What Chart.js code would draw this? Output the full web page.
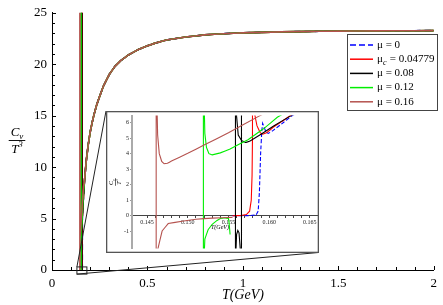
<!DOCTYPE html>
<html><head><meta charset="utf-8">
<script src="https://cdn.jsdelivr.net/npm/chart.js@4.4.0/dist/chart.umd.min.js"></script>
<style>
html,body{margin:0;padding:0;background:#fff;}
#wrap{position:relative;width:443px;height:305px;overflow:hidden;}
#main{position:absolute;left:0;top:0;}
#inset{position:absolute;left:106px;top:111px;}
</style></head><body>
<div id="wrap"><canvas id="main" width="443" height="305"></canvas><canvas id="inset" width="213" height="142"></canvas></div>
<script>
// ---------------- data ----------------
const seriesNames = ['μ = 0', 'μc = 0.04779', 'μ = 0.08', 'μ = 0.12', 'μ = 0.16'];
const seriesColors = ['#0000ff', '#ff0000', '#000000', '#00ee00', '#b5524e'];

// common high-temperature part (all curves coincide)
const tailT  = [0.17,0.175,0.18,0.19,0.2,0.21,0.22,0.235,0.25,0.27,0.3,0.33,0.36,0.4,0.45,0.5,0.55,0.6,0.7,0.8,0.9,1.0,1.2,1.4,1.6,1.8,2.0];
const tailCv = [8.6,9.7,10.7,12.2,13.4,14.3,15.1,16.1,16.9,17.9,19.0,19.8,20.35,20.9,21.4,21.8,22.1,22.35,22.65,22.85,22.97,23.05,23.15,23.2,23.23,23.25,23.27];

// mu = 0
const mu0T  = [0.1555,0.1575,0.1584,0.15865,0.1588,0.15895,0.1591,0.1592,0.15935,0.1596,0.1599,0.1605,0.1615,0.1627,0.165];
const mu0Cv = [0,0.01,0.05,0.3,1.5,4.0,5.5,5.95,5.75,5.4,5.3,5.5,5.9,6.4,7.1];
// mu_c = 0.04779
const muCT  = [0.1555,0.1565,0.1572,0.1576,0.1578,0.1579,0.15795,0.1580,0.15805,0.1581,0.1582,0.1585,0.1589,0.1592,0.1597,0.1605,0.1615,0.1625,0.165];
const muCCv = [0,0.02,0.08,0.3,1.0,2.6,5,60,60,9,6.6,5.8,5.35,5.25,5.35,5.7,6.05,6.42,7.2];
// mu = 0.08 (null = break between branches)
const mu08T  = [0.15586,0.15586,0.1559,0.156,0.15615,0.1563,0.1565,0.1566,0.1566,0.1566,0.15586,0.15592,0.156,0.1562,0.1566,0.1571,0.1576,0.159,0.1606,0.1627,0.165];
const mu08Cv = [60,-60,-2.5,-1.2,-0.95,-1.1,-2.5,-60,60,null,60,8,6.4,5.2,4.85,4.72,4.8,5.25,5.8,6.45,7.2];
// mu = 0.12
const mu12T  = [0.1552,0.15508,0.155,0.1545,0.154,0.1536,0.153,0.1525,0.1521,0.15198,0.15192,0.15192,0.15198,0.1521,0.1523,0.1526,0.153,0.154,0.1552,0.1574,0.1593,0.161,0.165];
const mu12Cv = [-1.2,-0.45,-0.18,-0.13,-0.18,-0.3,-0.55,-0.9,-1.5,-3,-60,60,8,5.3,4.4,4.0,3.92,4.05,4.3,4.9,5.6,6.34,7.6];
// mu = 0.16
const mu16T  = [0.1555,0.153,0.151,0.1493,0.1476,0.14685,0.1463,0.14618,0.14612,0.14612,0.14618,0.1463,0.1465,0.1468,0.1471,0.1475,0.148,0.15,0.152,0.155,0.1587,0.165];
const mu16Cv = [-0.1,-0.15,-0.22,-0.35,-0.5,-0.98,-2.2,-4,-60,60,8,5.2,4.0,3.5,3.35,3.38,3.52,4.02,4.55,5.35,6.4,8.1];

const seriesT  = [mu0T, muCT, mu08T, mu12T, mu16T];
const seriesCv = [mu0Cv, muCCv, mu08Cv, mu12Cv, mu16Cv];

// axes
const mainXRange = [0, 2], mainYRange = [0, 25];
const mainXStep = 0.1, mainXMajor = 0.5, mainYStep = 1, mainYMajor = 5;
const insetXRange = [0.14315, 0.166], insetYRange = [-2.1, 6.45];
const insetXTickLabels = ['0.145', '0.150', '0.155', '0.160', '0.165'];
const insetYTickLabels = ['-1', '0', '1', '2', '3', '4', '5', '6'];
// zoomed region marker in the main plot
const zoomBoxT = [0.1305, 0.1828], zoomBoxCv = [-0.4, 0.3];

// ---------------- helpers ----------------
const SERIF = '"Liberation Serif", "Times New Roman", serif';
function pts(T, Cv) { return T.map((t, i) => ({x: t, y: Cv[i]})); }
function buildData(i) { return pts(seriesT[i], seriesCv[i]).concat(pts(tailT, tailCv)); }
const drawOrder = [4, 3, 2, 1, 0]; // smaller = drawn on top
function datasets(width, dash) {
  return seriesNames.map((n, i) => ({
    label: n, data: buildData(i), borderColor: seriesColors[i], backgroundColor: seriesColors[i],
    borderWidth: width, pointRadius: 0, tension: 1e-6, fill: false, spanGaps: false,
    borderDash: i === 0 ? dash : [], order: drawOrder[i]
  }));
}
function near(v, s) { return Math.abs(v / s - Math.round(v / s)) < 1e-6; }

// inward tick marks for main chart
const tickPlugin = {
  id: 'ticks',
  afterDraw(chart) {
    const {ctx} = chart; const xs = chart.scales.x, ys = chart.scales.y;
    const ca = chart.chartArea;
    ctx.save(); ctx.strokeStyle = '#000'; ctx.lineWidth = 1;
    ctx.beginPath();
    xs.ticks.forEach(t => {
      const p = Math.round(xs.getPixelForValue(t.value)) + 0.5;
      const len = near(t.value, mainXMajor) ? 4 : 3;
      ctx.moveTo(p, ca.bottom); ctx.lineTo(p, ca.bottom - len);
    });
    ys.ticks.forEach(t => {
      const p = Math.round(ys.getPixelForValue(t.value)) + 0.5;
      const len = near(t.value, mainYMajor) ? 4 : 3;
      ctx.moveTo(ca.left, p); ctx.lineTo(ca.left + len, p);
    });
    ctx.stroke(); ctx.restore();
  }
};

// fraction Cv / T^3
function drawFrac(ctx, cx, cy, size) {
  const it = 'italic ' + size + 'px ' + SERIF;
  const sm = 'italic ' + Math.round(size * 0.7) + 'px ' + SERIF;
  ctx.font = it; const wC = ctx.measureText('C').width; const wT = ctx.measureText('T').width;
  ctx.font = sm; const wv = ctx.measureText('v').width; const w3 = ctx.measureText('3').width;
  const top = wC + wv, bot = wT + w3, W = Math.max(top, bot) + size * 0.3;
  ctx.fillStyle = '#000'; ctx.textBaseline = 'alphabetic'; ctx.textAlign = 'left';
  ctx.font = it; ctx.fillText('C', cx - top / 2, cy - size * 0.3);
  ctx.font = sm; ctx.fillText('v', cx - top / 2 + wC, cy - size * 0.08);
  ctx.font = it; ctx.fillText('T', cx - bot / 2, cy + size * 1.0);
  ctx.font = sm; ctx.fillText('3', cx - bot / 2 + wT, cy + size * 0.55);
  ctx.strokeStyle = '#000'; ctx.lineWidth = Math.max(0.6, size / 14);
  ctx.beginPath(); ctx.moveTo(cx - W / 2, cy + 0.5); ctx.lineTo(cx + W / 2, cy + 0.5); ctx.stroke();
}

const insetPos = {left: 106, top: 111, w: 213, h: 142};

const decoPlugin = {
  id: 'deco',
  afterDraw(chart) {
    const {ctx} = chart; const xs = chart.scales.x, ys = chart.scales.y;
    ctx.save();
    // y-axis title
    drawFrac(ctx, 17, 140, 13);
    // zoom box
    const x0 = xs.getPixelForValue(zoomBoxT[0]), x1 = xs.getPixelForValue(zoomBoxT[1]);
    const y0 = ys.getPixelForValue(zoomBoxCv[1]), y1 = ys.getPixelForValue(zoomBoxCv[0]);
    ctx.strokeStyle = '#222'; ctx.lineWidth = 1;
    ctx.strokeRect(x0, y0, x1 - x0, y1 - y0);
    ctx.beginPath();
    ctx.moveTo(x0, y0); ctx.lineTo(insetPos.left, insetPos.top);
    ctx.moveTo(x0, y1); ctx.lineTo(insetPos.left + insetPos.w - 0.5, insetPos.top + insetPos.h - 0.5);
    ctx.stroke();
    // legend
    const lb = {x: 347.5, y: 34.5, w: 90, h: 76};
    ctx.fillStyle = '#fff'; ctx.fillRect(lb.x, lb.y, lb.w, lb.h);
    ctx.strokeStyle = '#444'; ctx.lineWidth = 1; ctx.strokeRect(lb.x, lb.y, lb.w, lb.h);
    seriesNames.forEach((n, i) => {
      const y = 45 + i * 14.2;
      ctx.strokeStyle = seriesColors[i]; ctx.lineWidth = 1.5;
      ctx.setLineDash(i === 0 ? [6, 3] : []);
      ctx.beginPath(); ctx.moveTo(350, y); ctx.lineTo(373, y); ctx.stroke();
      ctx.setLineDash([]);
      ctx.fillStyle = '#000'; ctx.textBaseline = 'middle'; ctx.textAlign = 'left';
      ctx.font = '11px ' + SERIF;
      if (n.indexOf('μc') === 0) {
        ctx.fillText('μ', 377, y);
        let x = 377 + ctx.measureText('μ').width;
        ctx.font = 'italic 8px ' + SERIF; ctx.fillText('c', x, y + 4);
        x += ctx.measureText('c').width + 0.5;
        ctx.font = '11px ' + SERIF; ctx.fillText(n.slice(2), x, y);
      } else ctx.fillText(n, 377, y);
    });
    ctx.restore();
  }
};

new Chart(document.getElementById('main'), {
  type: 'line',
  data: {datasets: datasets(1.6, [6, 4])},
  options: {
    responsive: false, animation: false, events: [],
    layout: {padding: {top: 11, right: 8, left: 0, bottom: 0}},
    plugins: {legend: {display: false}, tooltip: {enabled: false}},
    scales: {
      x: {type: 'linear', min: mainXRange[0], max: mainXRange[1],
        afterFit: s => { s.height = 35; },
        grid: {display: true, drawOnChartArea: false, drawTicks: false},
        border: {display: true, color: '#000', width: 1},
        ticks: {stepSize: mainXStep, autoSkip: false, maxRotation: 0, padding: 6, color: '#000',
          font: {family: SERIF, size: 13},
          callback: v => near(v, mainXMajor) ? String(Math.round(v * 10) / 10) : ''},
        title: {display: true, text: 'T(GeV)', color: '#000', font: {family: SERIF, size: 14, style: 'italic'}, padding: {top: 0, bottom: 1}}
      },
      y: {type: 'linear', min: mainYRange[0], max: mainYRange[1],
        afterFit: s => { s.width = 52; },
        grid: {display: true, drawOnChartArea: false, drawTicks: false},
        border: {display: true, color: '#000', width: 1},
        ticks: {stepSize: mainYStep, autoSkip: false, padding: 5, color: '#000',
          font: {family: SERIF, size: 13},
          callback: v => near(v, mainYMajor) ? String(Math.round(v)) : ''}
      }
    }
  },
  plugins: [tickPlugin, decoPlugin]
});

const insetDeco = {
  id: 'insetDeco',
  beforeDraw(chart) {
    const {ctx} = chart; ctx.save(); ctx.fillStyle = '#fff'; ctx.fillRect(0, 0, chart.width, chart.height); ctx.restore();
  },
  afterDraw(chart) {
    const {ctx} = chart; const ca = chart.chartArea; const ys = chart.scales.y;
    ctx.save();
    ctx.strokeStyle = '#555'; ctx.lineWidth = 1.3;
    ctx.strokeRect(0.65, 0.65, chart.width - 1.3, chart.height - 1.3);
    // axis titles
    ctx.translate(9, (ca.top + ca.bottom) / 2);
    ctx.rotate(-Math.PI / 2);
    drawFrac(ctx, 0, 0, 6);
    ctx.setTransform(1, 0, 0, 1, 0, 0);
    ctx.fillStyle = '#000'; ctx.font = 'italic 6px ' + SERIF; ctx.textAlign = 'center'; ctx.textBaseline = 'middle';
    ctx.fillText('T(GeV)', (ca.left + ca.right) / 2 - 5, ys.getPixelForValue(0) + 12);
    ctx.restore();
  }
};

new Chart(document.getElementById('inset'), {
  type: 'line',
  data: {datasets: datasets(1.1, [4, 2])},
  options: {
    responsive: false, animation: false, events: [],
    layout: {padding: {top: 1, right: 1, bottom: 1, left: 0}},
    plugins: {legend: {display: false}, tooltip: {enabled: false}},
    scales: {
      x: {type: 'linear', min: insetXRange[0], max: insetXRange[1], position: {y: 0},
        afterFit: s => { s.height = 0; },
        grid: {display: true, drawOnChartArea: false, drawTicks: true, tickLength: 2, color: '#444'},
        border: {display: true, color: '#444', width: 1},
        ticks: {stepSize: 0.001, autoSkip: false, maxRotation: 0, padding: 1, color: '#222',
          font: {family: SERIF, size: 6},
          callback: v => { const s = v.toFixed(3); if (v < insetXRange[0] + 1e-4 || v > insetXRange[1] - 1e-4) return null; return insetXTickLabels.includes(s) ? s : ''; }}
      },
      y: {type: 'linear', min: insetYRange[0], max: insetYRange[1], position: 'left',
        afterFit: s => { s.width = 26; },
        grid: {display: true, drawOnChartArea: false, drawTicks: true, tickLength: 2, color: '#999'},
        border: {display: true, color: '#aaa', width: 2},
        ticks: {stepSize: 1, autoSkip: false, padding: 1, color: '#222',
          font: {family: SERIF, size: 6},
          callback: v => { const s = String(Math.round(v)); return (near(v, 1) && insetYTickLabels.includes(s)) ? s : null; }}
      }
    }
  },
  plugins: [insetDeco]
});
</script>
</body></html>
